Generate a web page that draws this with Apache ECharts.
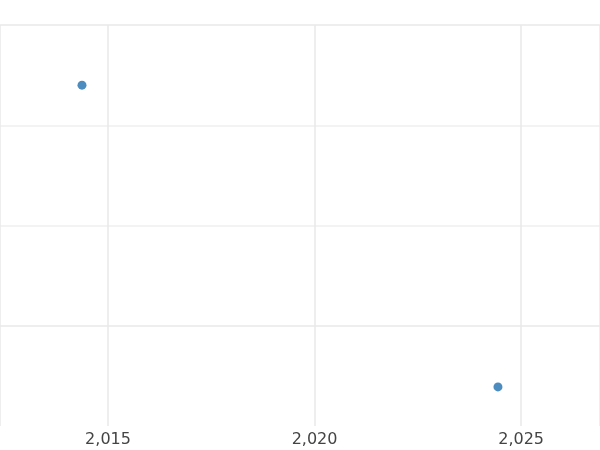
<!DOCTYPE html>
<html><head><meta charset="utf-8">
<script src="https://cdn.jsdelivr.net/npm/echarts@6/dist/echarts.min.js"></script>
<style>html,body{margin:0;padding:0;background:#fff}#c{width:600px;height:450px}</style>
</head><body><div id="c"></div>
<script>
const xValues = [2014.37, 2024.44];
const yValues = [3.40, 0.39];
const chart = echarts.init(document.getElementById('c'));
chart.setOption({
  animation: false,
  grid: {left: 0, right: 0, top: 25, bottom: 24},
  xAxis: {
    type: 'value', min: 2012.385, max: 2026.91, splitNumber: 3,
    axisLine: {show: false}, axisTick: {show: false},
    axisLabel: {showMinLabel: false, showMaxLabel: false, color: '#444', fontSize: 16, fontFamily: 'DejaVu Sans', margin: 6},
    splitLine: {show: true, lineStyle: {color: '#e8e8e8', width: 1.5}}
  },
  yAxis: {
    type: 'value', min: 0, max: 4, interval: 1,
    axisLine: {show: false}, axisTick: {show: false}, axisLabel: {show: false},
    splitLine: {show: true, lineStyle: {color: ['rgba(0,0,0,0)', '#e8e8e8', '#efefef', '#efefef', '#e8e8e8'], width: 1.5}}
  },
  series: [{
    type: 'scatter', symbolSize: 9,
    itemStyle: {color: '#1f6fae'},
    data: xValues.map((x, i) => [x, yValues[i]])
  }]
});
</script></body></html>
